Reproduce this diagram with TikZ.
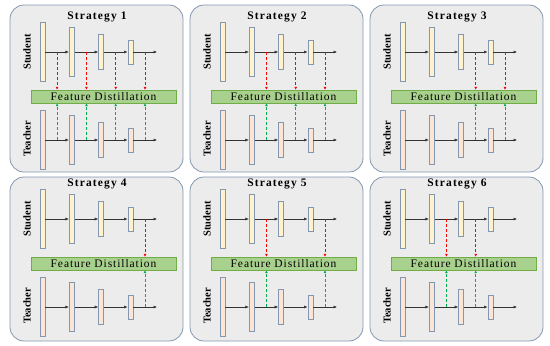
\documentclass[tikz,border=0pt]{standalone}
\usepackage{fontspec}
\setmainfont{Liberation Serif}
\usetikzlibrary{arrows.meta,positioning}
\definecolor{panelcolor}{RGB}{236,236,236}
\definecolor{edgecolor}{RGB}{132,151,176}
\definecolor{studentcolor}{RGB}{255,242,204}
\definecolor{teachercolor}{RGB}{251,229,214}
\definecolor{fdcolor}{RGB}{169,209,142}
\definecolor{fdedge}{RGB}{112,173,71}
\definecolor{tapred}{RGB}{255,0,0}
\definecolor{tapgreen}{RGB}{0,176,80}

\begin{document}
\begin{tikzpicture}[x=1pt, y=-1pt,
            panel/.style={draw=edgecolor, fill=panelcolor, rounded corners=14pt, line width=0.8pt},
            title/.style={font=\bfseries\fontsize{11.5}{12}\selectfont\addfontfeature{LetterSpace=10}},
            lbl/.style={font=\bfseries\fontsize{10.5}{11}\selectfont, rotate=90, inner sep=0pt},
            sblock/.style={draw=edgecolor, fill=studentcolor, minimum width=5pt, inner sep=0pt, line width=0.8pt},
            tblock/.style={sblock, fill=teachercolor},
            fd/.style={draw=fdedge, fill=fdcolor, minimum width=145pt, minimum height=13pt, inner sep=0pt,
                       font=\fontsize{11.5}{12}\selectfont\addfontfeature{LetterSpace=8}},
            flow/.style={-{Latex[length=3.5pt,width=3pt]}, black!80, line width=0.5pt},
            redtap/.style={-{Latex[length=3pt,width=3pt]}, tapred, densely dashed, line width=0.7pt},
            greentap/.style={-{Latex[length=3pt,width=3pt]}, tapgreen, densely dashed, line width=0.9pt}
          ]
  \useasboundingbox (0,0) rectangle (550,346);
  \foreach \i/\ox/\oy/\pt/\pb/\taps in {1/0/0/5/172/{1,2,3,4}, 2/180/0/5/172/{2,3,4}, 3/360/0/5/172/{3,4},
                                        4/0/167/10/174/{4}, 5/180/167/10/174/{2,4}, 6/360/167/10/174/{2,3}} {
    \begin{scope}[shift={(\ox,\oy)}]
      \draw[panel] (10,\pt) rectangle (183,\pb);
      \node[title] (title\i) at (97,16.5) {Strategy \i};
      \node[lbl] (slabel\i) at (27,52) {Student};
      \node[lbl] (tlabel\i) at (27,139) {Teacher};
      \node[fd] (fd\i) at (103.5,96.5) {Feature Distillation};
      % student and teacher blocks
      \foreach \k/\h in {1/59,2/49,3/35,4/24} {
        \node[sblock, minimum height=\h pt] (s\i-\k) at ({42.5+29.3*(\k-1)},52) {};
        \node[tblock, minimum height=\h pt] (t\i-\k) at ({42.5+29.3*(\k-1)},140) {};
        \coordinate (sc\i-\k) at ({57.1+29.3*(\k-1)},52);
        \coordinate (tc\i-\k) at ({57.1+29.3*(\k-1)},140);
      }
      \coordinate (send\i) at (157,52);
      \coordinate (tend\i) at (157,140);
      \foreach \k/\n in {1/2,2/3,3/4} {
        \draw[flow] (s\i-\k) -- (s\i-\n);
        \draw[flow] (t\i-\k) -- (t\i-\n);
      }
      \draw[flow] (s\i-4) -- (send\i);
      \draw[flow] (t\i-4) -- (tend\i);
      % distillation taps
      \foreach \k in \taps {
        \draw[redtap] (sc\i-\k) -- (sc\i-\k |- fd\i.north);
        \draw[greentap] (tc\i-\k) -- (tc\i-\k |- fd\i.south);
      }
    \end{scope}
  }
\end{tikzpicture}
\end{document}
